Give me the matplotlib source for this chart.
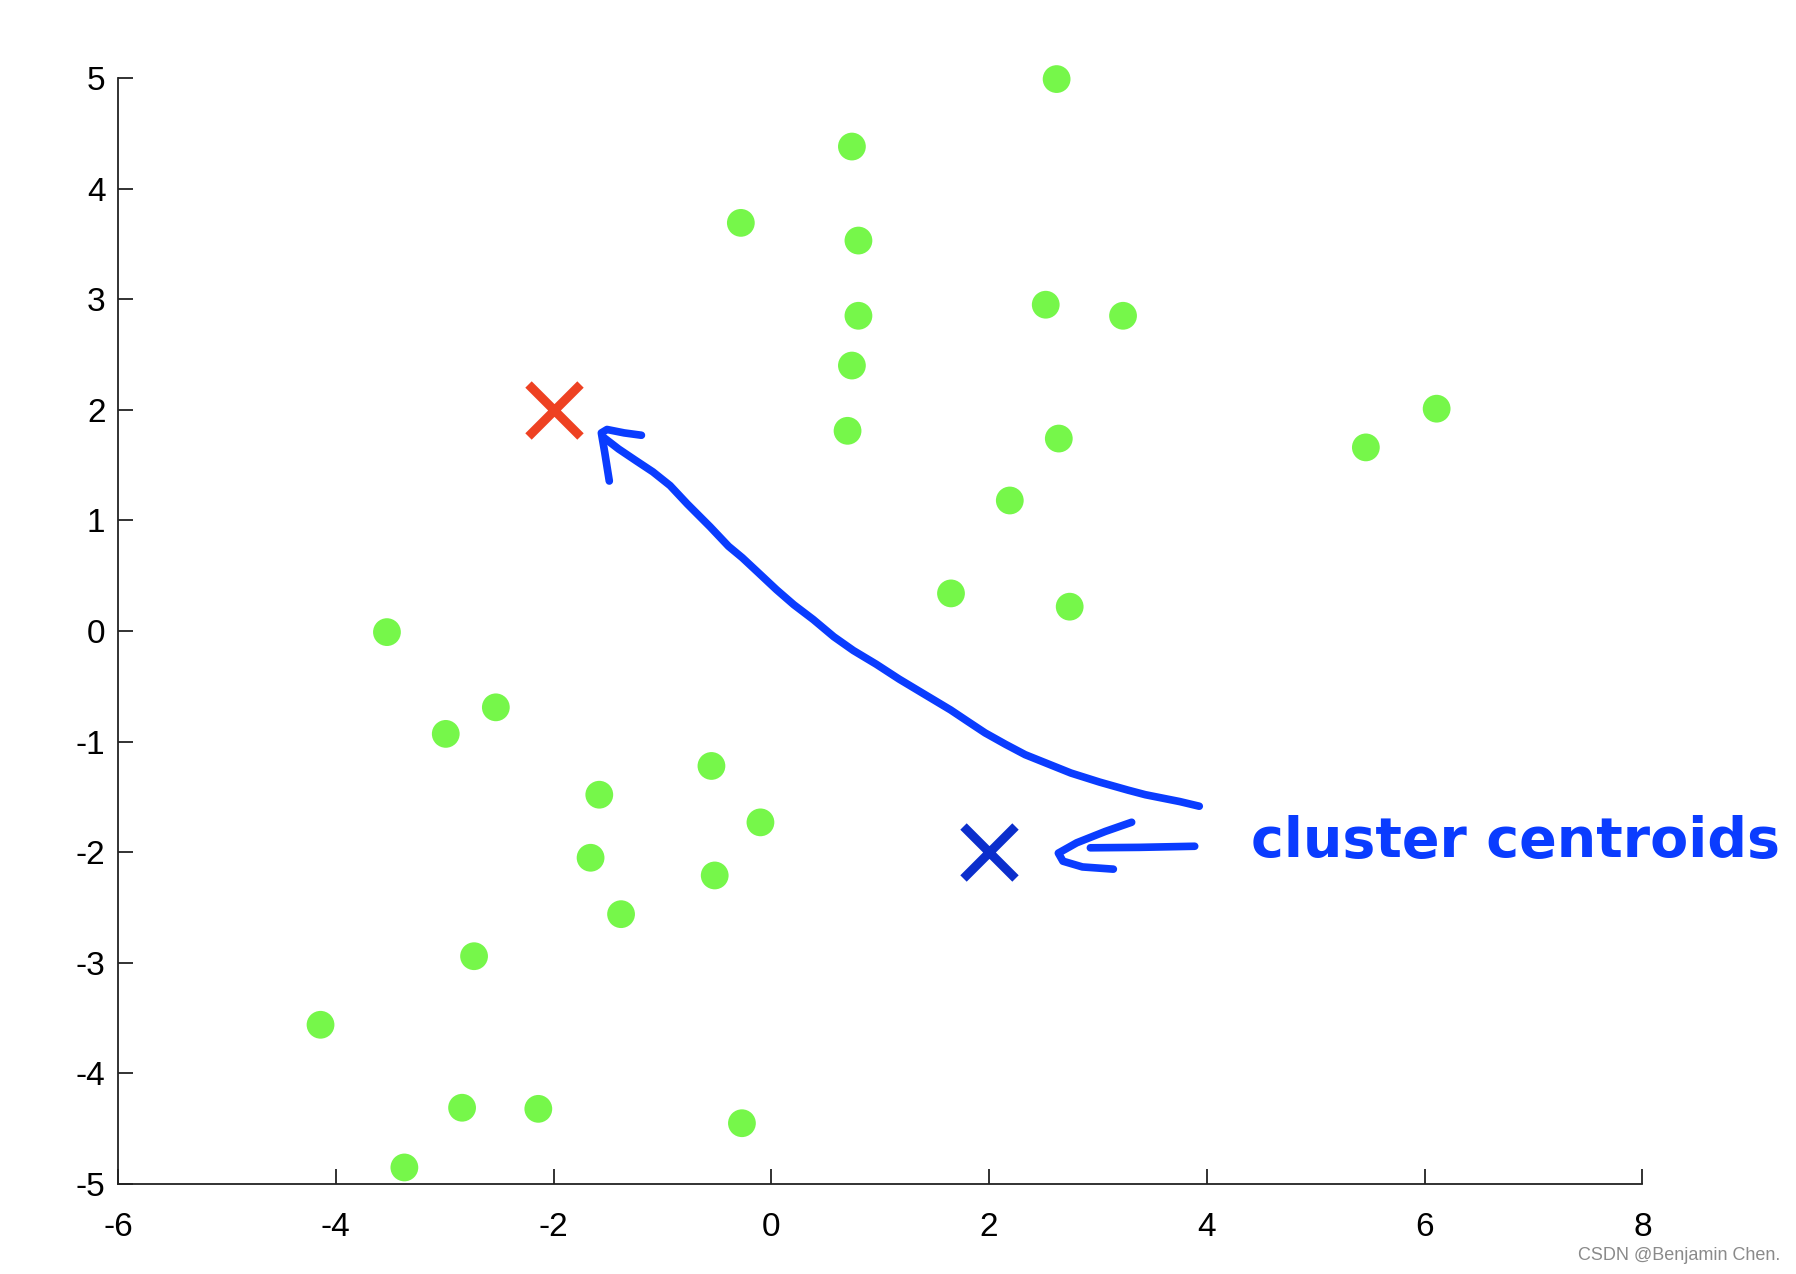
import matplotlib
matplotlib.use("Agg")
import matplotlib.pyplot as plt

# data points
pts_x = [2.62, 0.74, -0.28, 0.80, 0.80, 2.52, 3.23, 0.74, 0.70, 2.64, 6.11, 5.46, 2.19, 1.65, 2.74,
         -3.53, -2.53, -2.99, -0.55, -1.58, -0.10, -1.66, -0.52, -1.38, -2.73, -4.14, -2.84, -2.14, -0.27, -3.37]
pts_y = [4.99, 4.38, 3.69, 3.53, 2.85, 2.95, 2.85, 2.40, 1.81, 1.74, 2.01, 1.66, 1.18, 0.34, 0.22,
         -0.01, -0.69, -0.93, -1.22, -1.48, -1.73, -2.05, -2.21, -2.56, -2.94, -3.56, -4.31, -4.32, -4.45, -4.85]

centroid_red = (-2.0, 2.0)
centroid_blue = (2.0, -2.0)

xticks = [-6, -4, -2, 0, 2, 4, 6, 8]
yticks = [-5, -4, -3, -2, -1, 0, 1, 2, 3, 4, 5]

# hand-drawn annotation strokes (data coordinates)
curve_x = [3.930, 3.751, 3.435, 3.277, 3.015, 2.751, 2.541, 2.331, 2.152, 1.963, 1.805, 1.647, 1.384, 1.174,
           0.963, 0.753, 0.574, 0.385, 0.206, 0.048, -0.120, -0.267, -0.393, -0.562, -0.772, -0.930, -1.088,
           -1.246, -1.403, -1.540]
curve_y = [-1.584, -1.542, -1.480, -1.439, -1.366, -1.284, -1.201, -1.118, -1.025, -0.921, -0.818, -0.714,
           -0.559, -0.435, -0.300, -0.176, -0.052, 0.104, 0.238, 0.373, 0.528, 0.663, 0.766, 0.942, 1.149,
           1.315, 1.439, 1.542, 1.646, 1.750]
head1_x = [-1.488, -1.530, -1.561, -1.509, -1.351, -1.193]
head1_y = [1.356, 1.615, 1.791, 1.822, 1.791, 1.770]
shaft2_x = [3.888, 3.380, 2.930]
shaft2_y = [-1.946, -1.956, -1.960]
head2_x = [3.309, 3.067, 2.804, 2.636, 2.678, 2.857, 3.141]
head2_y = [-1.729, -1.812, -1.915, -2.008, -2.081, -2.133, -2.153]

plt.rcParams['font.family'] = ['Liberation Sans', 'DejaVu Sans']

fig = plt.figure(figsize=(17.96, 12.74), dpi=100)
ax = fig.add_axes([0.0657, 0.0706, 0.9145 - 0.0657, 0.9388 - 0.0706])

ax.scatter(pts_x, pts_y, s=400, color='#76F74A', edgecolors='none', zorder=3, clip_on=False)
ax.plot([centroid_red[0]], [centroid_red[1]], marker='x', markersize=37, markeredgewidth=6.5,
        color='#EE4122', linestyle='none', zorder=4)
ax.plot([centroid_blue[0]], [centroid_blue[1]], marker='x', markersize=37, markeredgewidth=6.5,
        color='#0B2ECC', linestyle='none', zorder=4)

blue = '#0A3CFF'
for xs, ys in [(curve_x, curve_y), (head1_x, head1_y), (shaft2_x, shaft2_y), (head2_x, head2_y)]:
    ax.plot(xs, ys, color=blue, linewidth=5.5, solid_capstyle='round', solid_joinstyle='round',
            clip_on=False, zorder=5)

ax.set_xlim(-6, 8)
ax.set_ylim(-5, 5)
ax.set_xticks(xticks)
ax.set_yticks(yticks)
ax.set_xticklabels([str(v) for v in xticks])
ax.set_yticklabels([str(v) for v in yticks])
for side in ['top', 'right']:
    ax.spines[side].set_visible(False)
for side in ['left', 'bottom']:
    ax.spines[side].set_linewidth(1.3)
    ax.spines[side].set_color('#222222')
ax.tick_params(axis='both', direction='in', length=11, width=1.3, color='#222222', labelsize=24)
ax.tick_params(axis='x', pad=20)
ax.tick_params(axis='y', pad=9)

fig.text(0.991, 0.327, 'cluster centroids', color=blue, fontsize=40, fontweight='bold',
         family=['DejaVu Sans'], ha='right', va='baseline')
fig.text(0.991, 0.011, 'CSDN @Benjamin Chen.', color='#8a8a8a', fontsize=13, ha='right', va='baseline')

fig.savefig('out.png', dpi=100)
